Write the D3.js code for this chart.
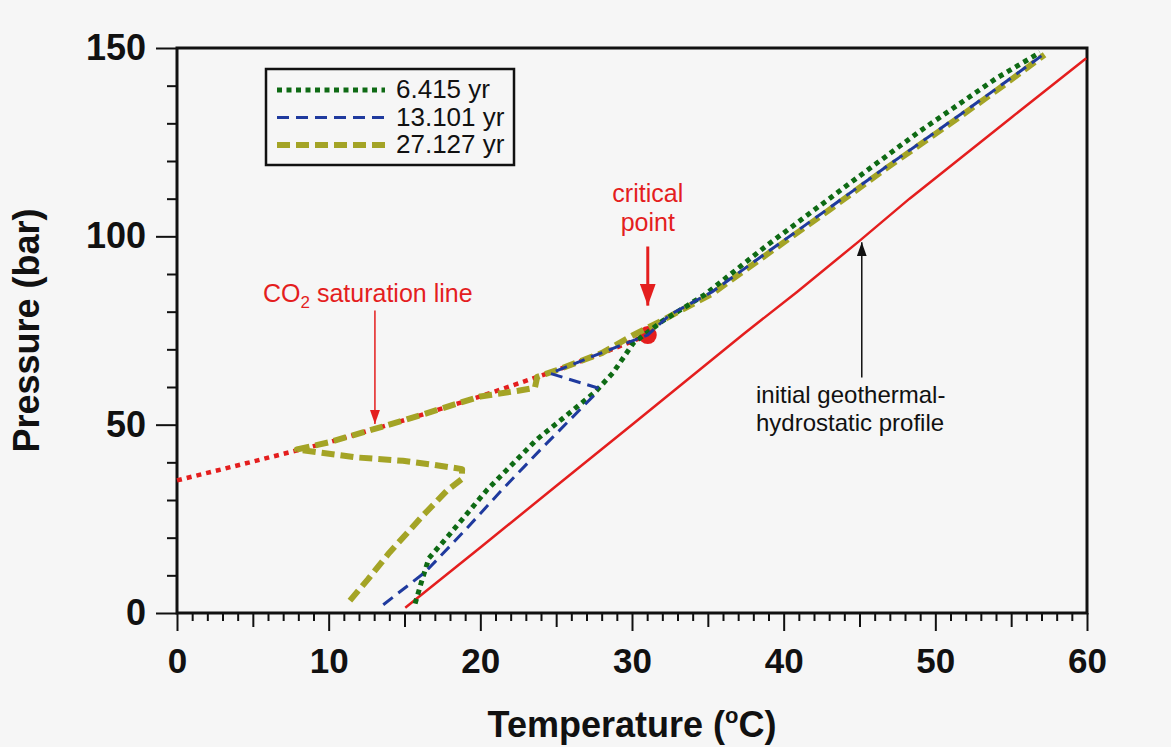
<!DOCTYPE html>
<html>
<head>
<meta charset="utf-8">
<script src="https://cdn.jsdelivr.net/npm/d3@7"></script>
<style>
  html, body { margin: 0; padding: 0; background: #f6f6f6; }
  svg { display: block; font-family: "Liberation Sans", Arial, Helvetica, sans-serif; }
</style>
</head>
<body>
<svg id="chart" width="1171" height="747"></svg>
<script>
// ---------- data ----------
const xTicksMajor = [0, 10, 20, 30, 40, 50, 60];
const yTicksMajor = [0, 50, 100, 150];

// initial geothermal-hydrostatic profile (red solid)
const geoT = [15.05, 20, 25, 30, 37.4, 40.9, 45, 48.3, 55, 59.95];
const geoP = [1.4, 17.4, 33.7, 50.0, 74.2, 85.3, 98.8, 110.0, 131.5, 147.3];

// CO2 saturation line (red dotted) up to the critical point
const satT = [0, 5, 10, 15, 20, 25, 28, 31.04];
const satP = [35.2, 40.2, 45.3, 51.2, 57.5, 64.4, 68.9, 73.8];

// critical point
const critT = 31.04, critP = 73.8;

// 6.415 yr (green dotted)
const s1T = [15.7, 16.1, 16.6, 18.0, 20.4, 23.7, 26.0, 27.6, 28.75, 30.1, 32.0, 34.8, 38.8, 43.8, 48.8, 54.0, 56.9];
const s1P = [2.5, 8.0, 14.5, 21.0, 32.5, 46.0, 53.5, 58.8, 63.8, 71.7, 77.5, 84.5, 97.3, 112.4, 127.4, 141.9, 148.8];

// 13.101 yr (blue dashed)
const s2T = [13.6, 16.35, 19.0, 21.5, 24.0, 27.45, 27.7, 24.6, 27.0, 29.6, 31.04, 32.5, 35.3, 39.1, 43.0, 46.6, 51.7, 54.3, 57.3];
const s2P = [2.2, 10.8, 22.0, 33.0, 43.5, 57.6, 59.8, 63.6, 67.5, 71.6, 73.8, 79.2, 85.3, 96.3, 107.5, 118.0, 132.5, 140.0, 148.8];

// 27.127 yr (olive dashed)
const s3T = [11.4, 12.6, 14.0, 16.2, 17.8, 18.77, 18.8, 17.0, 14.9, 11.85, 7.9, 10, 15, 20, 22.5, 23.6, 23.75, 25, 28, 30.0, 31.9, 35.3, 39.1, 43.0, 46.6, 51.7, 54.3, 57.2];
const s3P = [3.3, 9.0, 16.0, 25.8, 32.5, 35.5, 38.2, 39.3, 40.4, 41.3, 43.4, 45.3, 51.2, 57.5, 59.0, 59.8, 62.7, 64.4, 69.0, 73.6, 77.5, 84.8, 95.8, 107.0, 117.6, 132.0, 139.5, 148.2];

const legendLabels = ["6.415 yr", "13.101 yr", "27.127 yr"];

// ---------- setup ----------
const svg = d3.select("#chart");
const W = 1171, H = 747;
svg.append("rect").attr("width", W).attr("height", H).attr("fill", "#f6f6f6");

const x = d3.scaleLinear().domain([0, 60]).range([177, 1087]);
const y = d3.scaleLinear().domain([0, 150]).range([613, 48]);

const zip = (a, b) => a.map((v, i) => [v, b[i]]);
const line = d3.line().x(d => x(d[0])).y(d => y(d[1]));

const colors = {
  red: "#e41e1e",
  green: "#0e6a14",
  blue: "#1f3a9e",
  olive: "#a4a426"
};

// markers
const defs = svg.append("defs");
defs.append("marker").attr("id", "arrRed").attr("markerUnits", "userSpaceOnUse")
  .attr("viewBox", "0 0 22 16").attr("refX", 22).attr("refY", 8)
  .attr("markerWidth", 22).attr("markerHeight", 16).attr("orient", "auto")
  .append("path").attr("d", "M0,0 L22,8 L0,16 Z").attr("fill", colors.red);
defs.append("marker").attr("id", "arrRedThin").attr("markerUnits", "userSpaceOnUse")
  .attr("viewBox", "0 0 14 10").attr("refX", 14).attr("refY", 5)
  .attr("markerWidth", 14).attr("markerHeight", 10).attr("orient", "auto")
  .append("path").attr("d", "M0,0 L14,5 L0,10 Z").attr("fill", colors.red);
defs.append("marker").attr("id", "arrBlack").attr("markerUnits", "userSpaceOnUse")
  .attr("viewBox", "0 0 14 10").attr("refX", 14).attr("refY", 5)
  .attr("markerWidth", 14).attr("markerHeight", 10).attr("orient", "auto")
  .append("path").attr("d", "M0,0 L14,5 L0,10 Z").attr("fill", "#111");

// ---------- axes ----------
const tickStyle = g => {
  g.select(".domain").remove();
  g.selectAll(".tick line").attr("stroke", "#111").attr("stroke-width", 2);
};

svg.append("g").attr("transform", `translate(${x(0)},0)`)
  .call(d3.axisLeft(y).tickValues(d3.range(0, 151, 10).filter(v => v % 50 !== 0)).tickSize(10).tickFormat(""))
  .call(tickStyle);
const yAx = svg.append("g").attr("transform", `translate(${x(0)},0)`)
  .call(d3.axisLeft(y).tickValues(yTicksMajor).tickSize(21).tickPadding(10).tickFormat(d3.format("d")))
  .call(tickStyle);
yAx.selectAll("text").attr("font-size", 36).attr("font-weight", "bold").attr("fill", "#111")
  .attr("font-family", "'Liberation Sans', Arial, sans-serif");

svg.append("g").attr("transform", `translate(0,${y(0)})`)
  .call(d3.axisBottom(x).tickValues(d3.range(0, 61, 1).filter(v => v % 5 !== 0)).tickSize(8).tickFormat(""))
  .call(tickStyle);
svg.append("g").attr("transform", `translate(0,${y(0)})`)
  .call(d3.axisBottom(x).tickValues(d3.range(5, 61, 10)).tickSize(14).tickFormat(""))
  .call(tickStyle);
const xAx = svg.append("g").attr("transform", `translate(0,${y(0)})`)
  .call(d3.axisBottom(x).tickValues(xTicksMajor).tickSize(18).tickPadding(17).tickFormat(d3.format("d")))
  .call(tickStyle);
xAx.selectAll("text").attr("font-size", 35).attr("font-weight", "bold").attr("fill", "#111")
  .attr("font-family", "'Liberation Sans', Arial, sans-serif");

// frame
svg.append("rect").attr("x", x(0)).attr("y", y(150))
  .attr("width", x(60) - x(0)).attr("height", y(0) - y(150))
  .attr("fill", "none").attr("stroke", "#111").attr("stroke-width", 3);

// axis titles
svg.append("text").attr("transform", `translate(39,${(y(0) + y(150)) / 2}) rotate(-90)`)
  .attr("text-anchor", "middle").attr("font-size", 36).attr("font-weight", "bold").attr("fill", "#111")
  .text("Pressure (bar)");
const xt = svg.append("text").attr("x", (x(0) + x(60)) / 2).attr("y", 737)
  .attr("text-anchor", "middle").attr("font-size", 36).attr("font-weight", "bold").attr("fill", "#111");
xt.append("tspan").text("Temperature (");
xt.append("tspan").attr("font-size", 22).attr("dy", -14).text("o");
xt.append("tspan").attr("dy", 14).text("C)");

// ---------- data lines ----------
const plot = svg.append("g");
plot.append("path").datum(zip(geoT, geoP)).attr("d", line)
  .attr("fill", "none").attr("stroke", colors.red).attr("stroke-width", 2.5);
plot.append("path").datum(zip(satT, satP)).attr("d", line)
  .attr("fill", "none").attr("stroke", colors.red).attr("stroke-width", 4.5)
  .attr("stroke-dasharray", "5,5");
plot.append("circle").attr("cx", x(critT)).attr("cy", y(critP)).attr("r", 9).attr("fill", colors.red);

plot.append("path").datum(zip(s3T, s3P)).attr("d", line)
  .attr("fill", "none").attr("stroke", colors.olive).attr("stroke-width", 6)
  .attr("stroke-dasharray", "13,6").attr("stroke-linejoin", "round");
plot.append("path").datum(zip(s1T, s1P)).attr("d", line)
  .attr("fill", "none").attr("stroke", colors.green).attr("stroke-width", 5)
  .attr("stroke-dasharray", "5,4.5");
plot.append("path").datum(zip(s2T, s2P)).attr("d", line)
  .attr("fill", "none").attr("stroke", colors.blue).attr("stroke-width", 3)
  .attr("stroke-dasharray", "12,7");

// ---------- annotations ----------
// critical point
const cpt = svg.append("text").attr("text-anchor", "middle")
  .attr("font-size", 25).attr("fill", colors.red);
cpt.append("tspan").attr("x", x(critT)).attr("y", 202).text("critical");
cpt.append("tspan").attr("x", x(critT)).attr("y", 231).text("point");
svg.append("line").attr("x1", x(critT)).attr("x2", x(critT))
  .attr("y1", y(97.3)).attr("y2", y(81.6))
  .attr("stroke", colors.red).attr("stroke-width", 3).attr("marker-end", "url(#arrRed)");

// CO2 saturation line
const ct = svg.append("text").attr("x", 263).attr("y", 302).attr("font-size", 25).attr("fill", colors.red);
ct.append("tspan").text("CO");
ct.append("tspan").attr("font-size", 17).attr("dy", 6).text("2");
ct.append("tspan").attr("dy", -6).text(" saturation line");
svg.append("line").attr("x1", x(13.05)).attr("x2", x(13.05))
  .attr("y1", y(80.3)).attr("y2", y(50.2))
  .attr("stroke", colors.red).attr("stroke-width", 1.5).attr("marker-end", "url(#arrRedThin)");

// geothermal annotation
const gt = svg.append("text").attr("font-size", 24).attr("fill", "#111");
gt.append("tspan").attr("x", 756).attr("y", 403).text("initial geothermal-");
gt.append("tspan").attr("x", 756).attr("y", 431).text("hydrostatic profile");
svg.append("line").attr("x1", x(45.15)).attr("x2", x(45.15))
  .attr("y1", y(62.5)).attr("y2", y(98.4))
  .attr("stroke", "#111").attr("stroke-width", 1.5).attr("marker-end", "url(#arrBlack)");

// ---------- legend ----------
const lg = svg.append("g");
lg.append("rect").attr("x", 266).attr("y", 69).attr("width", 248).attr("height", 96)
  .attr("fill", "#f6f6f6").attr("stroke", "#111").attr("stroke-width", 2.5);
const legStyles = [
  { c: colors.green, w: 5, d: "5,4.5" },
  { c: colors.blue, w: 3, d: "12,7" },
  { c: colors.olive, w: 6, d: "13,6" }
];
legendLabels.forEach((lab, i) => {
  const yy = 90 + i * 27.5;
  lg.append("line").attr("x1", 277).attr("x2", 385).attr("y1", yy).attr("y2", yy)
    .attr("stroke", legStyles[i].c).attr("stroke-width", legStyles[i].w)
    .attr("stroke-dasharray", legStyles[i].d);
  lg.append("text").attr("x", 396).attr("y", yy + 8).attr("font-size", 26).attr("fill", "#111").text(lab);
});
</script>
</body>
</html>
